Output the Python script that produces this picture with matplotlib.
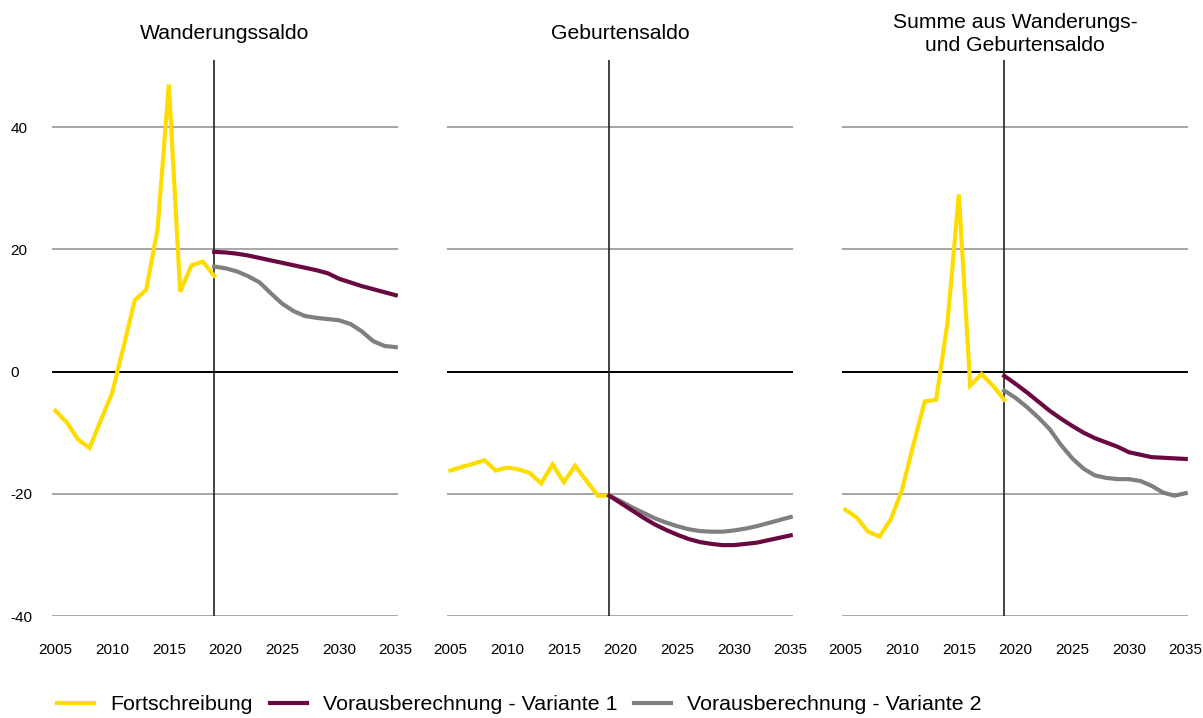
import matplotlib
matplotlib.use('Agg')
import matplotlib.pyplot as plt

plt.rcParams['font.family'] = ['Liberation Sans', 'DejaVu Sans']
plt.rcParams['axes.unicode_minus'] = False

years_hist = list(range(2005, 2020))
years_proj = list(range(2019, 2036))

titles = ['Wanderungssaldo', 'Geburtensaldo', 'Summe aus Wanderungs-\nund Geburtensaldo']

# Fortschreibung 2005-2019
wander_hist = [-6.4, -8.3, -11.1, -12.5, -8.0, -3.5, 4.0, 11.7, 13.4, 23.2, 47.0, 13.1, 17.4, 18.0, 15.7]
geburt_hist = [-16.2, -15.6, -15.1, -14.5, -16.2, -15.7, -16.0, -16.6, -18.3, -15.2, -18.1, -15.4, -17.9, -20.3, -20.3]
summe_hist = [-22.6, -23.9, -26.2, -27.0, -24.2, -19.3, -11.9, -4.9, -4.6, 8.0, 29.0, -2.3, -0.4, -2.3, -4.6]

# Vorausberechnung Variante 1, 2019-2035
wander_v1 = [19.6, 19.5, 19.3, 19.0, 18.6, 18.2, 17.8, 17.4, 17.0, 16.6, 16.1, 15.2, 14.6, 14.0, 13.5, 13.0, 12.5]
geburt_v1 = [-20.3, -21.5, -22.7, -23.9, -25.0, -25.9, -26.7, -27.4, -27.9, -28.2, -28.4, -28.4, -28.2, -28.0, -27.6, -27.2, -26.8]
summe_v1 = [-0.7, -2.0, -3.4, -4.9, -6.4, -7.7, -8.9, -10.0, -10.9, -11.6, -12.3, -13.2, -13.6, -14.0, -14.1, -14.2, -14.3]

# Vorausberechnung Variante 2, 2019-2035
wander_v2 = [17.2, 16.9, 16.4, 15.6, 14.6, 12.8, 11.1, 9.9, 9.1, 8.8, 8.6, 8.4, 7.8, 6.6, 5.0, 4.2, 4.0]
geburt_v2 = [-20.3, -21.2, -22.2, -23.1, -24.0, -24.7, -25.3, -25.8, -26.1, -26.2, -26.2, -26.0, -25.7, -25.3, -24.8, -24.3, -23.8]
summe_v2 = [-3.1, -4.3, -5.8, -7.5, -9.4, -12.0, -14.2, -15.9, -17.0, -17.4, -17.6, -17.6, -17.9, -18.7, -19.8, -20.3, -19.9]

hist = [wander_hist, geburt_hist, summe_hist]
v1 = [wander_v1, geburt_v1, summe_v1]
v2 = [wander_v2, geburt_v2, summe_v2]

x_ticks = [2005, 2010, 2015, 2020, 2025, 2030, 2035]
y_ticks = [-40, -20, 0, 20, 40]

col_yellow = '#FFDC00'
col_purple = '#6A0842'
col_gray = '#7F7F7F'

W, H = 1203, 718
fig = plt.figure(figsize=(W / 100, H / 100), dpi=100)

lefts = [52, 447, 842]
for i in range(3):
    ax = fig.add_axes([lefts[i] / W, 1 - 616 / H, 346 / W, 556 / H])
    ax.set_xlim(2004.7, 2035.2)
    ax.set_ylim(-40, 51)
    for s in ax.spines.values():
        s.set_visible(False)
    for y in [-40, -20, 20, 40]:
        ax.axhline(y, color='#A6A6A6', lw=1.4, zorder=1)
    ax.axhline(0, color='black', lw=1.4, zorder=1)
    ax.axvline(2019, color='#222222', lw=1.2, zorder=1)

    l1, = ax.plot(years_hist, hist[i], color=col_yellow, lw=3, zorder=3, solid_joinstyle='miter')
    l3, = ax.plot(years_proj, v2[i], color=col_gray, lw=3, zorder=3)
    l2, = ax.plot(years_proj, v1[i], color=col_purple, lw=3, zorder=4)

    ax.set_xticks(x_ticks)
    ax.tick_params(axis='x', length=0, pad=19.5, labelsize=11)
    ax.set_yticks(y_ticks)
    if i == 0:
        ax.tick_params(axis='y', length=0, pad=30, labelsize=11)
        for lab in ax.get_yticklabels():
            lab.set_horizontalalignment('left')
    else:
        ax.tick_params(axis='y', length=0, labelleft=False)

    ax.text(0.5, 1.047, titles[i], transform=ax.transAxes, ha='center', va='center',
            fontsize=15.2, linespacing=1.3)

fig.legend([l1, l2, l3], ['Fortschreibung', 'Vorausberechnung - Variante 1', 'Vorausberechnung - Variante 2'],
           loc='center left', bbox_to_anchor=(57 / W, 1 - 705 / H), ncol=3, frameon=False,
           fontsize=15.4, handlelength=1.73, handletextpad=0.75, columnspacing=0.8,
           borderpad=0, borderaxespad=0)

fig.savefig('out.png', dpi=100)
